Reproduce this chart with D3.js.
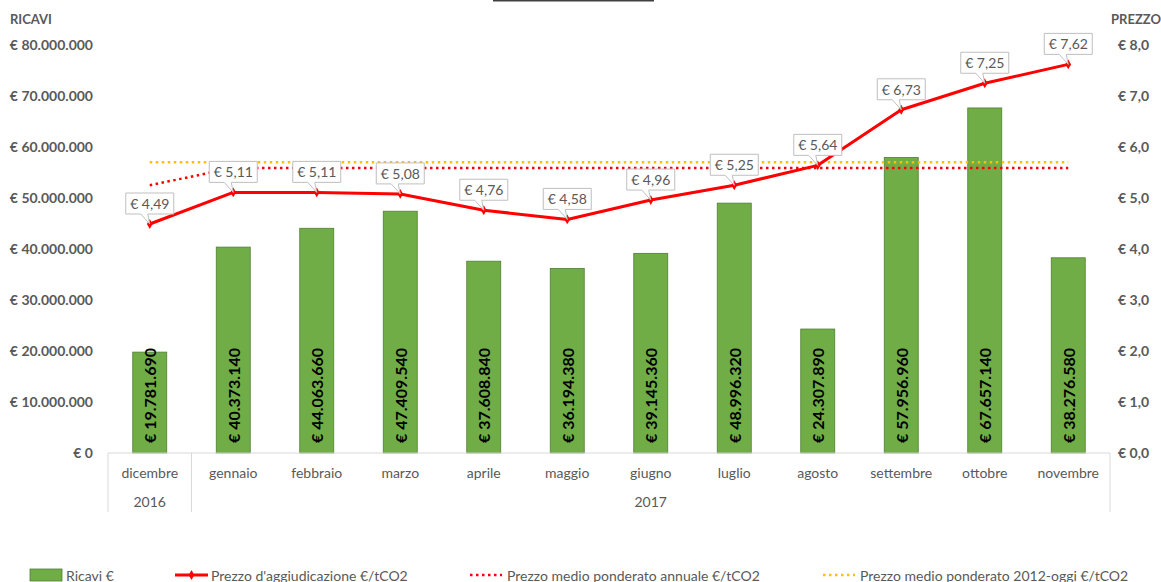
<!DOCTYPE html>
<html>
<head>
<meta charset="utf-8">
<script src="https://cdn.jsdelivr.net/npm/d3@7"></script>
<style>
  body { margin: 0; background: #fff; }
  #chart { width: 1161px; height: 582px; }
  text { font-family: Lato, "Open Sans", sans-serif; }
</style>
</head>
<body>
<div id="chart"></div>
<script>
// --- data ---
const months = ["dicembre", "gennaio", "febbraio", "marzo", "aprile", "maggio",
                "giugno", "luglio", "agosto", "settembre", "ottobre", "novembre"];
const years = [{label: "2016", from: 0, to: 0}, {label: "2017", from: 1, to: 11}];
const ricavi = [19781690, 40373140, 44063660, 47409540, 37608840, 36194380,
                39145360, 48996320, 24307890, 57956960, 67657140, 38276580];
const prezzo = [4.49, 5.11, 5.11, 5.08, 4.76, 4.58, 4.96, 5.25, 5.64, 6.73, 7.25, 7.62];
const medioAnnuale = [5.25, 5.59, 5.59, 5.59, 5.59, 5.59, 5.59, 5.59, 5.59, 5.59, 5.59, 5.59];
const medio2012 = [5.70, 5.70, 5.70, 5.70, 5.70, 5.70, 5.70, 5.70, 5.70, 5.70, 5.70, 5.70];
const leftTicks = [0, 10000000, 20000000, 30000000, 40000000, 50000000, 60000000, 70000000, 80000000];
const rightTicks = [0, 1, 2, 3, 4, 5, 6, 7, 8];

const it = d3.formatLocale({decimal: ",", thousands: ".", grouping: [3], currency: ["€ ", ""]});
const fmtEuro = it.format("$,.0f");
const fmtPrezzo1 = it.format("$.1f");
const fmtPrezzo2 = it.format("$.2f");

const W = 1161, H = 582;
const margin = {top: 45, left: 108, right: 51, bottom: 129};
const plotW = W - margin.left - margin.right;
const plotH = H - margin.top - margin.bottom;

const svg = d3.select("#chart").append("svg")
    .attr("width", W).attr("height", H);

const grey = "#595959";

// cut-off title underline at the very top
svg.append("line")
    .attr("x1", 493).attr("x2", 654).attr("y1", 0.5).attr("y2", 0.5)
    .attr("stroke", "#404040").attr("stroke-width", 2);

const g = svg.append("g").attr("transform", `translate(${margin.left},${margin.top})`);

const x = d3.scaleBand().domain(months).range([0, plotW]).paddingInner(0).paddingOuter(0);
const yL = d3.scaleLinear().domain([0, 80000000]).range([plotH, 0]);
const yR = d3.scaleLinear().domain([0, 8]).range([plotH, 0]);
const cx = m => x(m) + x.bandwidth() / 2;

// left axis
const axL = g.append("g").call(d3.axisLeft(yL).tickValues(leftTicks).tickFormat(fmtEuro).tickSize(0).tickPadding(15));
axL.select(".domain").remove();
axL.selectAll("text").attr("fill", grey).attr("font-size", 14).attr("font-weight", "bold");

// right axis
const axR = g.append("g").attr("transform", `translate(${plotW},0)`)
    .call(d3.axisRight(yR).tickValues(rightTicks).tickFormat(fmtPrezzo1).tickSize(0).tickPadding(8));
axR.select(".domain").remove();
axR.selectAll("text").attr("fill", grey).attr("font-size", 14).attr("font-weight", "bold");

svg.append("text").attr("x", 10).attr("y", 24).text("RICAVI")
    .attr("fill", grey).attr("font-size", 13).attr("font-weight", "bold");
svg.append("text").attr("x", 1111).attr("y", 24).text("PREZZO")
    .attr("fill", grey).attr("font-size", 13).attr("font-weight", "bold");

// bars
const barW = 34;
g.selectAll("rect.bar").data(months).enter().append("rect")
    .attr("class", "bar")
    .attr("x", d => cx(d) - barW / 2)
    .attr("width", barW)
    .attr("y", (d, i) => yL(ricavi[i]))
    .attr("height", (d, i) => plotH - yL(ricavi[i]))
    .attr("fill", "#70AD47")
    .attr("stroke", "#507E32").attr("stroke-width", 0.8);

g.selectAll("text.barlab").data(months).enter().append("text")
    .attr("class", "barlab")
    .attr("transform", d => `translate(${cx(d)},${plotH - 10}) rotate(-90)`)
    .attr("dominant-baseline", "central")
    .attr("font-size", 16).attr("font-weight", "bold").attr("fill", "#000")
    .text((d, i) => fmtEuro(ricavi[i]));

// category axis
const axisCol = "#d9d9d9";
g.append("line").attr("x1", 0).attr("x2", plotW).attr("y1", plotH).attr("y2", plotH)
    .attr("stroke", axisCol);
const sepX = [x(months[0]), x(months[1]), plotW];
g.selectAll("line.sep").data(sepX).enter().append("line")
    .attr("x1", d => d).attr("x2", d => d).attr("y1", plotH).attr("y2", plotH + 59)
    .attr("stroke", axisCol);
g.selectAll("text.month").data(months).enter().append("text")
    .attr("x", d => cx(d)).attr("y", plotH + 25)
    .attr("text-anchor", "middle").attr("font-size", 14).attr("fill", grey)
    .text(d => d);
g.selectAll("text.year").data(years).enter().append("text")
    .attr("x", d => (x(months[d.from]) + x(months[d.to]) + x.bandwidth()) / 2)
    .attr("y", plotH + 54)
    .attr("text-anchor", "middle").attr("font-size", 14).attr("fill", grey)
    .text(d => d.label);

// average lines
const lineR = d3.line().x((d, i) => cx(months[i])).y(d => yR(d));
g.append("path").datum(medio2012).attr("d", lineR)
    .attr("fill", "none").attr("stroke", "#FFC000").attr("stroke-width", 2.5)
    .attr("stroke-dasharray", "2.5,3.5");
g.append("path").datum(medioAnnuale).attr("d", lineR)
    .attr("fill", "none").attr("stroke", "#FF0000").attr("stroke-width", 2.5)
    .attr("stroke-dasharray", "2.5,3.5");

// price line
g.append("path").datum(prezzo).attr("d", lineR)
    .attr("fill", "none").attr("stroke", "#FF0000").attr("stroke-width", 3)
    .attr("stroke-linejoin", "round");
const diamond = d3.symbol().type(d3.symbolDiamond).size(28);
g.selectAll("path.mk").data(prezzo).enter().append("path")
    .attr("d", diamond)
    .attr("transform", (d, i) => `translate(${cx(months[i])},${yR(d)})`)
    .attr("fill", "#FF0000");

// callout labels
const bw = 48, bh = 21, gap = 10;
const callouts = g.selectAll("g.callout").data(prezzo).enter().append("g")
    .attr("transform", (d, i) => `translate(${cx(months[i])},${yR(d)})`);
callouts.append("path")
    .attr("d", () => {
      const l = -bw / 2, r = bw / 2, b = -gap, t = -gap - bh;
      return `M${l},${t}H${r}V${b}H-2L0,0L-9,${b}H${l}Z`;
    })
    .attr("fill", "#fff").attr("stroke", "#bfbfbf").attr("stroke-width", 1);
callouts.append("text")
    .attr("x", 0).attr("y", -gap - bh / 2)
    .attr("text-anchor", "middle").attr("dominant-baseline", "central")
    .attr("font-size", 14).attr("fill", grey)
    .text(d => fmtPrezzo2(d));

// legend
const legY = 575;
const leg = svg.append("g");
leg.append("rect").attr("x", 30).attr("y", legY - 6).attr("width", 32).attr("height", 12)
    .attr("fill", "#70AD47").attr("stroke", "#507E32").attr("stroke-width", 0.8);
leg.append("text").attr("x", 66).attr("y", legY).attr("dominant-baseline", "central")
    .attr("font-size", 14).attr("fill", grey).text("Ricavi €");
leg.append("line").attr("x1", 175).attr("x2", 208).attr("y1", legY).attr("y2", legY)
    .attr("stroke", "#FF0000").attr("stroke-width", 3);
leg.append("path").attr("d", diamond).attr("transform", `translate(191.5,${legY})`).attr("fill", "#FF0000");
leg.append("text").attr("x", 211).attr("y", legY).attr("dominant-baseline", "central")
    .attr("font-size", 14).attr("fill", grey).text("Prezzo d'aggiudicazione €/tCO2");
leg.append("line").attr("x1", 470).attr("x2", 502).attr("y1", legY).attr("y2", legY)
    .attr("stroke", "#FF0000").attr("stroke-width", 2.5).attr("stroke-dasharray", "2.5,3.5");
leg.append("text").attr("x", 507).attr("y", legY).attr("dominant-baseline", "central")
    .attr("font-size", 14).attr("fill", grey).text("Prezzo medio ponderato annuale €/tCO2");
leg.append("line").attr("x1", 823).attr("x2", 855).attr("y1", legY).attr("y2", legY)
    .attr("stroke", "#FFC000").attr("stroke-width", 2.5).attr("stroke-dasharray", "2.5,3.5");
leg.append("text").attr("x", 860).attr("y", legY).attr("dominant-baseline", "central")
    .attr("font-size", 14).attr("fill", grey).text("Prezzo medio ponderato 2012-oggi €/tCO2");
</script>
</body>
</html>
